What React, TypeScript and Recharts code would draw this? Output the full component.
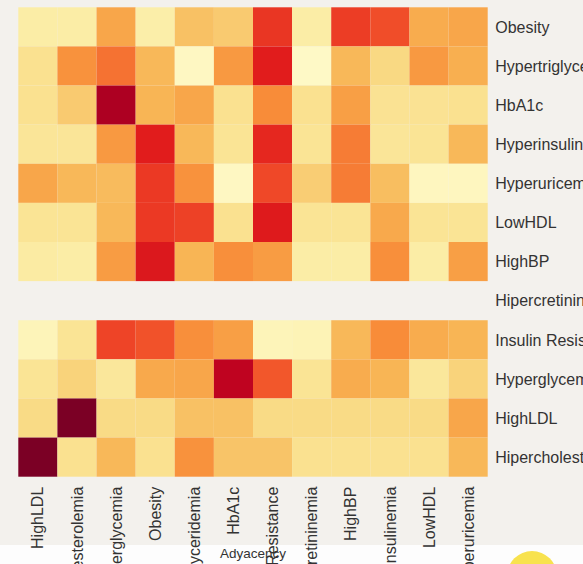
import React from 'react';
import { ScatterChart, Scatter, XAxis, YAxis } from 'recharts';

// Condition names, columns left to right and rows top to bottom
const columns = [
  'HighLDL', 'Hipercholesterolemia', 'Hyperglycemia', 'Obesity', 'Hypertriglyceridemia', 'HbA1c',
  'Insulin Resistance', 'Hipercretininemia', 'HighBP', 'Hyperinsulinemia', 'LowHDL', 'Hyperuricemia',
];
const rows = [
  'Obesity', 'Hypertriglyceridemia', 'HbA1c', 'Hyperinsulinemia', 'Hyperuricemia', 'LowHDL', 'HighBP',
  'Hipercretininemia', 'Insulin Resistance', 'Hyperglycemia', 'HighLDL', 'Hipercholesterolemia',
];

// Adjacency strength per row (0..1), one value per column
const obesity = [0.12, 0.12, 0.42, 0.11, 0.33, 0.3, 0.68, 0.12, 0.66, 0.62, 0.4, 0.42];
const hypertriglyceridemia = [0.2, 0.48, 0.55, 0.36, 0.03, 0.46, 0.75, 0.02, 0.36, 0.25, 0.46, 0.39];
const hba1c = [0.2, 0.3, 0.9, 0.37, 0.42, 0.2, 0.5, 0.2, 0.44, 0.19, 0.19, 0.2];
const hyperinsulinemia = [0.17, 0.17, 0.46, 0.75, 0.36, 0.18, 0.72, 0.18, 0.53, 0.17, 0.18, 0.36];
const hyperuricemia = [0.42, 0.36, 0.35, 0.67, 0.48, 0.03, 0.63, 0.29, 0.53, 0.34, 0.04, 0.04];
const lowHdl = [0.18, 0.18, 0.36, 0.67, 0.65, 0.2, 0.76, 0.18, 0.18, 0.41, 0.18, 0.18];
const highBp = [0.13, 0.12, 0.45, 0.77, 0.37, 0.49, 0.45, 0.12, 0.12, 0.49, 0.12, 0.44];
const hipercretininemia: number[] = [];
const insulinResistance = [0.06, 0.18, 0.64, 0.61, 0.49, 0.44, 0.06, 0.07, 0.36, 0.5, 0.4, 0.37];
const hyperglycemia = [0.18, 0.27, 0.16, 0.41, 0.42, 0.86, 0.6, 0.18, 0.4, 0.37, 0.16, 0.27];
const highLdl = [0.24, 1.0, 0.24, 0.24, 0.33, 0.33, 0.24, 0.24, 0.24, 0.24, 0.24, 0.42];
const hipercholesterolemia = [1.0, 0.2, 0.36, 0.2, 0.48, 0.32, 0.32, 0.2, 0.2, 0.2, 0.2, 0.36];

const matrix = [
  obesity, hypertriglyceridemia, hba1c, hyperinsulinemia, hyperuricemia, lowHdl, highBp,
  hipercretininemia, insulinResistance, hyperglycemia, highLdl, hipercholesterolemia,
];

const cells = matrix.flatMap((vals, r) => vals.map((v, c) => ({ x: c, y: r, v })));

const W = 583;
const H = 564;
const M = { top: 7.3, right: 0, bottom: 0, left: 18.3 };
const Y_AXIS_W = 95.3;
const X_AXIS_H = 87.3;
const CELL = (W - M.left - Y_AXIS_W) / columns.length;

// YlOrRd-like ramp
const stops = ['#fffbcc', '#fbeca4', '#f9d983', '#f8b453', '#f88c39', '#f04a28', '#e11c1c', '#ba0021', '#7b0025'];

function hex(c: string) {
  return [1, 3, 5].map(i => parseInt(c.slice(i, i + 2), 16));
}

function heatColor(v: number) {
  const t = Math.max(0, Math.min(1, v)) * (stops.length - 1);
  const i = Math.min(stops.length - 2, Math.floor(t));
  const f = t - i;
  const a = hex(stops[i]);
  const b = hex(stops[i + 1]);
  const m = a.map((ch, k) => Math.round(ch + (b[k] - ch) * f));
  return `rgb(${m[0]},${m[1]},${m[2]})`;
}

const CellShape = (props: any) => {
  const { cx, cy, payload } = props;
  return (
    <rect x={cx - CELL / 2} y={cy - CELL / 2} width={CELL} height={CELL} fill={heatColor(payload.v)} />
  );
};

const ColumnTick = ({ x, y, payload }: any) => (
  <g transform={`translate(${x},${y + 10})`}>
    <text transform="rotate(-90)" textAnchor="end" dy="0.35em" fill="#333" fontSize={16}>
      {columns[payload.value]}
    </text>
  </g>
);

const RowTick = ({ x, y, payload }: any) => (
  <text x={x + 7.5} y={y} dy="0.36em" textAnchor="start" fill="#333" fontSize={16}>
    {rows[payload.value]}
  </text>
);

const idx = columns.map((_, i) => i);

export default function App() {
  return (
    <div
      style={{
        position: 'absolute',
        top: 0,
        left: 0,
        width: W,
        height: H,
        overflow: 'hidden',
        background: 'linear-gradient(#f3f1ed 0, #f3f1ed 545px, #fdfdfd 545px)',
        fontFamily: '"Liberation Sans", Arial, Helvetica, sans-serif',
      }}
    >
      <div
        style={{
          position: 'absolute',
          left: 507,
          top: 551,
          width: 50,
          height: 50,
          borderRadius: '50%',
          background: '#f8e24e',
        }}
      />
      <ScatterChart width={W} height={H} margin={M} style={{ position: 'absolute', top: 0, left: 0 }}>
        <XAxis
          type="number"
          dataKey="x"
          domain={[-0.5, 11.5]}
          ticks={idx}
          interval={0}
          height={X_AXIS_H}
          axisLine={false}
          tickLine={false}
          tickSize={0}
          tickMargin={0}
          tick={<ColumnTick />}
          label={{ value: 'Adyacency', position: 'insideBottom', offset: 6, fill: '#333', fontSize: 13.5 }}
        />
        <YAxis
          type="number"
          dataKey="y"
          domain={[-0.5, 11.5]}
          reversed
          orientation="right"
          ticks={rows.map((_, i) => i)}
          interval={0}
          width={Y_AXIS_W}
          axisLine={false}
          tickLine={false}
          tickSize={0}
          tickMargin={0}
          tick={<RowTick />}
        />
        <Scatter data={cells} shape={<CellShape />} isAnimationActive={false} />
      </ScatterChart>
    </div>
  );
}
